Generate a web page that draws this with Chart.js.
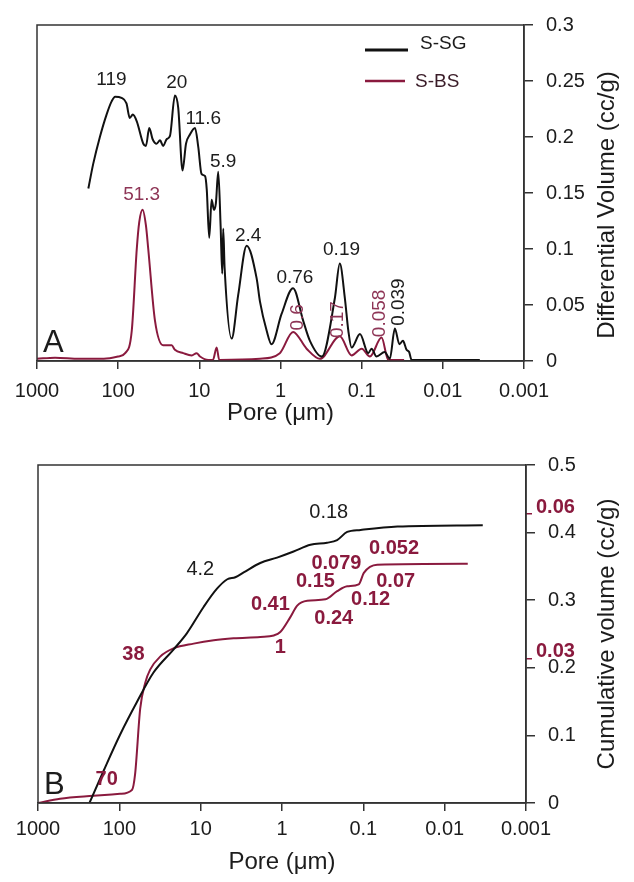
<!DOCTYPE html>
<html>
<head>
<meta charset="utf-8">
<script src="https://cdn.jsdelivr.net/npm/chart.js@4.4.1/dist/chart.umd.min.js"></script>
<style>
  html, body { margin: 0; padding: 0; background: #fff; }
  #wrap { position: relative; width: 634px; height: 882px; }
  canvas { position: absolute; left: 0; }
</style>
</head>
<body>
<div id="wrap">
  <canvas id="chartA" width="634" height="440" style="top:0"></canvas>
  <canvas id="chartB" width="634" height="442" style="top:440px"></canvas>
</div>
<script>
// ---- data ----
const poreTicks = [1000, 100, 10, 1, 0.1, 0.01, 0.001];
const poreTickLabels = ['1000', '100', '10', '1', '0.1', '0.01', '0.001'];
const diffTicks = [0, 0.05, 0.1, 0.15, 0.2, 0.25, 0.3];
const cumTicks = [0, 0.1, 0.2, 0.3, 0.4, 0.5];
const cumBsTicks = [0.03, 0.06];

// Panel A: differential volume (cc/g) vs pore size (um)
const sgDiffPore = [233, 203, 168, 139, 120, 109, 91, 79, 72, 66, 59, 49, 45.5, 41.4, 37.6, 33.6, 30.5, 27.9, 25.3, 23,
  20, 18.2, 16.1, 14.6, 13.1, 11.3, 10.3, 9.4, 8.5, 8.1, 7.55, 7.06, 6.6, 6.25, 5.85, 5.47, 5.22, 5.08, 4.88, 4.0,
  3.32, 2.61, 1.97, 1.79, 1.48, 1.29, 0.97, 0.70, 0.526, 0.434, 0.31, 0.214, 0.186, 0.161, 0.146, 0.133,
  0.105, 0.083, 0.0755, 0.0656, 0.052, 0.045, 0.039, 0.0343, 0.031, 0.028, 0.026, 0.0243, 0.0035];
const sgDiffVol = [0.154, 0.176, 0.200, 0.220, 0.232, 0.236, 0.235, 0.230, 0.217, 0.220, 0.214, 0.194, 0.192, 0.208, 0.198, 0.194, 0.197, 0.192, 0.198, 0.201,
  0.237, 0.226, 0.170, 0.194, 0.202, 0.208, 0.191, 0.167, 0.165, 0.153, 0.110, 0.144, 0.135, 0.141, 0.169, 0.121, 0.078, 0.118, 0.083, 0.020,
  0.059, 0.103, 0.074, 0.053, 0.027, 0.015, 0.042, 0.065, 0.036, 0.018, 0.004, 0.056, 0.087, 0.056, 0.027, 0.012,
  0.024, 0.007, 0.011, 0.004, 0.008, 0.002, 0.029, 0.015, 0.018, 0.010, 0.008, 0.001, 0.001];

const bsDiffPore = [1000, 600, 300, 150, 100, 82, 68, 59, 55, 50, 45.5, 42.6, 35.2, 27.9, 21.9, 20, 15.8, 12.4, 10.8, 9.8,
  7.76, 6.8, 6.12, 5.69, 1.79, 1.02, 0.70, 0.477, 0.327, 0.186, 0.133, 0.1, 0.079, 0.0569, 0.047, 0.03];
const bsDiffVol = [0.002, 0.003, 0.002, 0.002, 0.004, 0.007, 0.027, 0.100, 0.124, 0.135, 0.121, 0.100, 0.036, 0.014, 0.014, 0.010, 0.007, 0.005, 0.007, 0.004,
  0.001, 0.001, 0.012, 0.001, 0.002, 0.007, 0.026, 0.011, 0.002, 0.022, 0.005, 0.011, 0.004, 0.021, 0.001, 0.001];

// Panel B: cumulative volume (cc/g) vs pore size (um); S-BS on its own (red) axis
const sgCumPore = [233, 157, 98, 61, 38, 21.6, 14.8, 9.2, 6.3, 4.7, 3.75, 2.96, 1.85, 1.15, 0.72, 0.447, 0.279, 0.21, 0.158, 0.108, 0.038, 0.0034];
const sgCumVol = [0, 0.047, 0.101, 0.149, 0.193, 0.227, 0.251, 0.290, 0.317, 0.331, 0.334, 0.341, 0.355, 0.363, 0.372, 0.382, 0.385, 0.389, 0.401, 0.404, 0.409, 0.411];

const bsCumPore = [1000, 536, 208, 98, 70, 64, 55.4, 48, 41.8, 31.5, 21.6, 12.2, 6.9, 3.94, 1.85, 1.26, 1.05, 0.79, 0.65, 0.49,
  0.292, 0.21, 0.158, 0.114, 0.0986, 0.0675, 0.0052];
const bsCumVol = [0, 0.0009, 0.0015, 0.0019, 0.0027, 0.006, 0.0196, 0.025, 0.0277, 0.0304, 0.0321, 0.0331, 0.0338, 0.0342, 0.0345, 0.0348, 0.0355, 0.0386, 0.041, 0.042,
  0.0423, 0.044, 0.045, 0.0454, 0.0478, 0.0495, 0.0497];

// Peak / step annotations: text, pore, value (on the left-hand volume scale), series
const diffLabelText = ['119', '20', '11.6', '5.9', '51.3', '2.4', '0.76', '0.19', '0.6', '0.17', '0.058', '0.039'];
const diffLabelPore = [121, 19, 8.96, 5.08, 51.4, 2.5, 0.665, 0.177, 0.62, 0.196, 0.0597, 0.0348];
const diffLabelVol = [0.251, 0.248, 0.216, 0.178, 0.148, 0.112, 0.074, 0.099, 0.039, 0.037, 0.0425, 0.0526];
const diffLabelSeries = ['SG', 'SG', 'SG', 'SG', 'BS', 'SG', 'SG', 'SG', 'BS', 'BS', 'BS', 'SG'];
const diffLabelVertical = [false, false, false, false, false, false, false, false, true, true, true, true];

const cumLabelText = ['0.18', '4.2', '38', '70', '1', '0.41', '0.15', '0.24', '0.079', '0.052', '0.07', '0.12'];
const cumLabelPore = [0.266, 10.1, 67, 143, 1.05, 1.39, 0.388, 0.231, 0.214, 0.042, 0.040, 0.0815];
const cumLabelVol = [0.430, 0.346, 0.220, 0.035, 0.230, 0.294, 0.328, 0.273, 0.355, 0.377, 0.328, 0.301];
const cumLabelSeries = ['SG', 'SG', 'BS', 'BS', 'BS', 'BS', 'BS', 'BS', 'BS', 'BS', 'BS', 'BS'];

// ---- styling ----
const FONT = "'Liberation Sans', Arial, sans-serif";
const INK = '#1c1c1c';
const AXIS = '#333333';
const RED = '#8a1a3e';
const RED_TEXT_A = '#8e3556';
Chart.defaults.font.family = FONT;
Chart.defaults.color = INK;

const toPoints = (xs, ys) => xs.map((x, i) => ({ x: x, y: ys[i] }));
const fmt = v => String(parseFloat(Number(v).toFixed(4)));

// box round the plot area
const framePlugin = {
  id: 'frame',
  afterDraw(chart) {
    const { ctx, chartArea: a } = chart;
    ctx.save();
    ctx.strokeStyle = AXIS;
    ctx.lineWidth = 1.5;
    ctx.strokeRect(a.left, a.top, a.right - a.left, a.bottom - a.top);
    ctx.restore();
  }
};

// rotated right-hand title (reads bottom to top), panel letter, legend, peak labels
const decorPlugin = {
  id: 'decor',
  afterDraw(chart, args, opts) {
    const { ctx, chartArea: a, scales } = chart;
    ctx.save();
    // y title
    ctx.font = '24px ' + FONT;
    ctx.fillStyle = INK;
    ctx.textAlign = 'center';
    ctx.textBaseline = 'middle';
    ctx.translate(opts.titleX, (a.top + a.bottom) / 2 + opts.titleShift);
    ctx.rotate(-Math.PI / 2);
    ctx.fillText(opts.title, 0, 0);
    ctx.restore();

    ctx.save();
    ctx.font = '31px ' + FONT;
    ctx.fillStyle = INK;
    ctx.textAlign = 'left';
    ctx.textBaseline = 'alphabetic';
    ctx.fillText(opts.letter, a.left + 6, a.bottom - 9);

    // second (red) axis labels, placed from the y2 scale
    if (scales.y2) {
      ctx.font = 'bold 20px ' + FONT;
      ctx.fillStyle = RED;
      ctx.textAlign = 'left';
      ctx.textBaseline = 'middle';
      cumBsTicks.forEach(v => {
        ctx.fillText(fmt(v), a.right + 10, scales.y2.getPixelForValue(v) - 7);
      });
    }

    // annotations
    const labels = opts.labels;
    labels.text.forEach((t, i) => {
      const x = scales.x.getPixelForValue(labels.pore[i]);
      const y = scales.y.getPixelForValue(labels.vol[i]);
      const isBs = labels.series[i] === 'BS';
      ctx.save();
      ctx.font = (opts.boldRed && isBs ? 'bold ' : '') + opts.labelSize + 'px ' + FONT;
      ctx.fillStyle = isBs ? opts.redText : INK;
      ctx.textAlign = 'center';
      ctx.textBaseline = 'middle';
      ctx.translate(x, y);
      if (labels.vertical && labels.vertical[i]) ctx.rotate(-Math.PI / 2);
      ctx.fillText(t, 0, 0);
      ctx.restore();
    });

    // legend (panel A only)
    if (opts.legend) {
      chart.data.datasets.forEach((ds, i) => {
        const ly = a.top + 25 + i * 31;
        ctx.strokeStyle = ds.borderColor;
        ctx.lineWidth = i === 0 ? 3 : 2.5;
        ctx.beginPath();
        ctx.moveTo(a.left + 328, ly);
        ctx.lineTo(a.left + 371 - i * 3, ly);
        ctx.stroke();
        ctx.font = '19px ' + FONT;
        ctx.fillStyle = i === 0 ? INK : '#3a1c28';
        ctx.textAlign = 'left';
        ctx.textBaseline = 'middle';
        ctx.fillText(ds.label, a.left + 383 - i * 5, ly - 6 + i * 7);
      });
    }
    ctx.restore();
  }
};

function xScale(tickPad, titlePad) {
  return {
    type: 'logarithmic',
    reverse: true,
    min: 0.001,
    max: 1000,
    afterBuildTicks: s => { s.ticks = poreTicks.map(v => ({ value: v })); },
    afterFit: s => { s.height = 79; },
    ticks: {
      autoSkip: false,
      maxRotation: 0,
      padding: tickPad,
      font: { size: 20 },
      color: INK,
      callback: (v, i) => poreTickLabels[i]
    },
    grid: { drawOnChartArea: false, tickLength: 8, color: AXIS, lineWidth: 1.5 },
    border: { color: AXIS, width: 1.5 },
    title: { display: true, text: 'Pore (\u03bcm)', font: { size: 24 }, color: INK, padding: { top: 0, bottom: titlePad } }
  };
}

function lineSet(label, xs, ys, color, axis) {
  return {
    label: label,
    data: toPoints(xs, ys),
    borderColor: color,
    borderWidth: 2,
    pointRadius: 0,
    cubicInterpolationMode: 'monotone',
    yAxisID: axis || 'y'
  };
}

// ---- Panel A ----
new Chart(document.getElementById('chartA'), {
  type: 'line',
  data: {
    datasets: [
      lineSet('S-SG', sgDiffPore, sgDiffVol, '#111111'),
      lineSet('S-BS', bsDiffPore, bsDiffVol, RED)
    ]
  },
  options: {
    responsive: false,
    animation: false,
    devicePixelRatio: 1,
    layout: { padding: { left: 37, top: 19, right: 0, bottom: 0 } },
    plugins: {
      legend: { display: false },
      tooltip: { enabled: false },
      decor: {
        title: 'Differential Volume (cc/g)',
        titleX: 607,
        titleShift: 12,
        letter: 'A',
        legend: true,
        labelSize: 19,
        boldRed: false,
        redText: RED_TEXT_A,
        labels: { text: diffLabelText, pore: diffLabelPore, vol: diffLabelVol, series: diffLabelSeries, vertical: diffLabelVertical }
      }
    },
    scales: {
      x: xScale(10, 12),
      y: {
        position: 'right',
        min: 0,
        max: 0.3,
        afterBuildTicks: s => { s.ticks = diffTicks.map(v => ({ value: v })); },
        afterFit: s => { s.width = 110; },
        ticks: { padding: 13, font: { size: 20 }, color: INK, callback: v => fmt(v) },
        grid: { drawOnChartArea: false, tickLength: 9, color: AXIS, lineWidth: 1.5 },
        border: { color: AXIS, width: 1.5 }
      }
    }
  },
  plugins: [framePlugin, decorPlugin]
});

// ---- Panel B ----
new Chart(document.getElementById('chartB'), {
  type: 'line',
  data: {
    datasets: [
      lineSet('S-SG', sgCumPore, sgCumVol, '#111111'),
      lineSet('S-BS', bsCumPore, bsCumVol, RED, 'y2')
    ]
  },
  options: {
    responsive: false,
    animation: false,
    devicePixelRatio: 1,
    layout: { padding: { left: 38, top: 19, right: 0, bottom: 0 } },
    plugins: {
      legend: { display: false },
      tooltip: { enabled: false },
      decor: {
        title: 'Cumulative volume (cc/g)',
        titleX: 607,
        titleShift: 0,
        letter: 'B',
        legend: false,
        labelSize: 20,
        boldRed: true,
        redText: RED,
        labels: { text: cumLabelText, pore: cumLabelPore, vol: cumLabelVol, series: cumLabelSeries }
      }
    },
    scales: {
      x: xScale(6, 5),
      y2: {
        position: 'right',
        weight: -1,
        min: 0,
        max: 0.0702,
        afterBuildTicks: s => { s.ticks = cumBsTicks.map(v => ({ value: v })); },
        afterFit: s => { s.width = 0; },
        ticks: { display: false },
        grid: { drawOnChartArea: false, tickLength: 6, color: RED, lineWidth: 1.5 },
        border: { display: false }
      },
      y: {
        position: 'right',
        min: 0,
        max: 0.5,
        afterBuildTicks: s => { s.ticks = cumTicks.map(v => ({ value: v })); },
        afterFit: s => { s.width = 108; },
        ticks: { padding: 13, font: { size: 20 }, color: INK, callback: v => fmt(v) },
        grid: { drawOnChartArea: false, tickLength: 9, color: AXIS, lineWidth: 1.5 },
        border: { color: AXIS, width: 1.5 }
      }
    }
  },
  plugins: [framePlugin, decorPlugin]
});
</script>
</body>
</html>
